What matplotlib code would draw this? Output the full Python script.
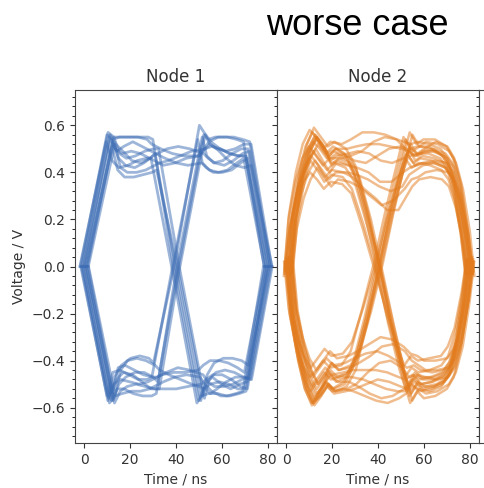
import matplotlib
matplotlib.use("Agg")
import matplotlib.pyplot as plt
from matplotlib.ticker import AutoMinorLocator, MultipleLocator

# ---- Node 1: key times (ns) ----
n1_t_a = [11.5, 14, 17, 21, 25, 29, 31]
n1_t_mid = [35, 40, 45]
n1_t_b = [51, 53, 56, 60, 64, 68, 71]

# first bit, hold section (None = transition through 0 at 40 ns), second bit
n1_bit_a = [
    [0.56, 0.54, 0.55, 0.55, 0.55, 0.54, 0.52],
    [0.53, 0.46, 0.43, 0.42, 0.44, 0.47, 0.48],
    [0.55, 0.50, 0.48, 0.49, 0.48, 0.46, 0.45],
    [0.52, 0.42, 0.40, 0.40, 0.41, 0.43, 0.44],
    [0.54, 0.49, 0.51, 0.53, 0.51, 0.49, 0.48],
    [0.57, 0.55, 0.55, 0.55, 0.55, 0.55, 0.54],
    [0.55, 0.48, 0.46, 0.47, 0.49, 0.50, 0.50],
    [0.53, 0.45, 0.42, 0.43, 0.45, 0.46, 0.46],
    [0.51, 0.41, 0.38, 0.38, 0.39, 0.40, 0.41],
    [0.56, 0.52, 0.49, 0.45, 0.44, 0.46, 0.48],
    [-0.58, -0.53, -0.51, -0.50, -0.51, -0.52, -0.52],
    [-0.56, -0.47, -0.42, -0.39, -0.38, -0.39, -0.41],
    [-0.57, -0.52, -0.52, -0.54, -0.55, -0.55, -0.54],
    [-0.55, -0.45, -0.44, -0.46, -0.48, -0.48, -0.47],
    [-0.57, -0.50, -0.47, -0.45, -0.45, -0.47, -0.49],
    [-0.58, -0.55, -0.54, -0.53, -0.53, -0.52, -0.51],
    [-0.55, -0.44, -0.40, -0.39, -0.40, -0.42, -0.44],
    [-0.57, -0.50, -0.48, -0.49, -0.50, -0.49, -0.48],
    [-0.56, -0.48, -0.45, -0.46, -0.49, -0.52, -0.52],
    [-0.54, -0.43, -0.42, -0.44, -0.46, -0.47, -0.47],
]
n1_mid = [
    [0.50, 0.48, 0.47], [0.50, 0.51, 0.50], [0.43, 0.44, 0.46],
    [0.45, 0.47, 0.49], [0.46, 0.44, 0.43],
    None, None, None, None, None,
    None, None, None, None, None,
    [-0.49, -0.47, -0.46], [-0.46, -0.48, -0.50], [-0.46, -0.45, -0.45],
    [-0.52, -0.52, -0.51], [-0.45, -0.43, -0.44],
]
n1_bit_b = [
    [0.47, 0.49, 0.53, 0.55, 0.55, 0.54, 0.53],
    [0.48, 0.46, 0.44, 0.43, 0.45, 0.48, 0.49],
    [0.47, 0.50, 0.51, 0.50, 0.48, 0.47, 0.47],
    [0.50, 0.52, 0.50, 0.46, 0.43, 0.42, 0.43],
    [0.44, 0.42, 0.40, 0.40, 0.41, 0.44, 0.46],
    [-0.57, -0.52, -0.50, -0.49, -0.50, -0.52, -0.52],
    [-0.56, -0.48, -0.45, -0.44, -0.45, -0.47, -0.48],
    [-0.58, -0.55, -0.54, -0.54, -0.55, -0.54, -0.53],
    [-0.55, -0.46, -0.41, -0.39, -0.39, -0.40, -0.42],
    [-0.57, -0.50, -0.47, -0.50, -0.52, -0.50, -0.49],
    [0.56, 0.52, 0.50, 0.49, 0.50, 0.52, 0.52],
    [0.60, 0.57, 0.53, 0.50, 0.48, 0.47, 0.47],
    [0.55, 0.47, 0.44, 0.45, 0.48, 0.50, 0.50],
    [0.54, 0.44, 0.41, 0.40, 0.41, 0.44, 0.46],
    [0.56, 0.54, 0.55, 0.55, 0.55, 0.54, 0.53],
    [-0.47, -0.50, -0.53, -0.55, -0.55, -0.54, -0.53],
    [-0.52, -0.54, -0.52, -0.49, -0.47, -0.47, -0.48],
    [-0.44, -0.42, -0.40, -0.40, -0.41, -0.43, -0.45],
    [-0.50, -0.48, -0.46, -0.46, -0.48, -0.51, -0.52],
    [-0.46, -0.49, -0.51, -0.51, -0.50, -0.48, -0.47],
]
n1_skew = [-1.6, 1.0, -0.5, 1.8, 0.2, -1.1, 1.4, -1.9, 0.6, -0.2,
           1.7, -0.8, 0.4, -1.5, 1.1, -0.5, 1.9, -1.2, 0.1, 0.8]

# ---- Node 2: sampled traces (ns, V) ----
n2_t = [1, 3, 6, 9, 12, 15, 18, 21, 26, 30, 35, 40, 45, 50, 53, 56, 59, 64, 69,
        72, 75, 78, 80]
n2_traces = [
    [-0.03, 0.22, 0.40, 0.52, 0.58, 0.55, 0.50, 0.53, 0.52, 0.54, 0.57, 0.57, 0.56, 0.54, 0.53, 0.52, 0.53, 0.52, 0.50, 0.46, 0.35, 0.16, -0.03],
    [-0.02, 0.19, 0.35, 0.45, 0.50, 0.45, 0.40, 0.44, 0.43, 0.42, 0.40, 0.36, 0.36, 0.40, 0.42, 0.43, 0.44, 0.45, 0.44, 0.40, 0.30, 0.13, -0.02],
    [-0.04, 0.21, 0.37, 0.47, 0.53, 0.50, 0.46, 0.49, 0.47, 0.45, 0.44, 0.47, 0.50, 0.51, 0.50, 0.47, 0.48, 0.49, 0.47, 0.43, 0.32, 0.14, -0.04],
    [-0.01, 0.16, 0.29, 0.37, 0.42, 0.38, 0.34, 0.37, 0.36, 0.34, 0.30, 0.26, 0.28, 0.33, 0.37, 0.38, 0.40, 0.41, 0.40, 0.36, 0.27, 0.12, -0.02],
    [-0.03, 0.23, 0.39, 0.50, 0.55, 0.52, 0.48, 0.50, 0.50, 0.51, 0.52, 0.52, 0.51, 0.50, 0.49, 0.47, 0.49, 0.50, 0.48, 0.44, 0.33, 0.15, -0.03],
    [-0.02, 0.18, 0.33, 0.42, 0.47, 0.43, 0.38, 0.41, 0.40, 0.38, 0.33, 0.29, 0.24, 0.24, 0.29, 0.34, 0.37, 0.38, 0.37, 0.34, 0.25, 0.11, -0.02],
    [-0.03, 0.21, 0.38, 0.49, 0.55, 0.51, 0.45, 0.47, 0.48, 0.49, 0.48, 0.45, 0.44, 0.46, 0.50, 0.48, 0.50, 0.53, 0.51, 0.46, 0.35, 0.15, -0.03],
    [-0.04, 0.20, 0.36, 0.46, 0.51, 0.47, 0.43, 0.46, 0.46, 0.47, 0.49, 0.53, 0.55, 0.54, 0.51, 0.47, 0.48, 0.48, 0.46, 0.42, 0.31, 0.14, -0.03],
    [-0.02, 0.17, 0.31, 0.40, 0.45, 0.41, 0.37, 0.40, 0.40, 0.39, 0.37, 0.34, 0.32, 0.34, 0.39, 0.41, 0.43, 0.44, 0.42, 0.38, 0.28, 0.12, -0.02],
    [-0.03, 0.22, 0.39, 0.51, 0.57, 0.53, 0.48, 0.51, 0.48, 0.40, 0.22, 0.00, -0.24, -0.44, -0.53, -0.48, -0.50, -0.49, -0.46, -0.42, -0.31, -0.14, 0.03],
    [-0.02, 0.20, 0.36, 0.47, 0.52, 0.48, 0.43, 0.46, 0.44, 0.38, 0.20, -0.02, -0.25, -0.46, -0.57, -0.52, -0.54, -0.53, -0.50, -0.45, -0.34, -0.15, 0.02],
    [-0.02, 0.17, 0.31, 0.40, 0.45, 0.41, 0.36, 0.39, 0.38, 0.33, 0.18, 0.01, -0.20, -0.38, -0.47, -0.43, -0.45, -0.44, -0.42, -0.38, -0.28, -0.12, 0.02],
    [-0.04, 0.23, 0.40, 0.52, 0.59, 0.55, 0.51, 0.53, 0.50, 0.43, 0.24, 0.02, -0.22, -0.42, -0.50, -0.45, -0.47, -0.47, -0.45, -0.41, -0.30, -0.13, 0.03],
    [-0.03, 0.21, 0.37, 0.48, 0.54, 0.50, 0.46, 0.48, 0.45, 0.37, 0.19, -0.01, -0.26, -0.48, -0.58, -0.53, -0.56, -0.55, -0.52, -0.47, -0.35, -0.16, 0.04],
    [-0.01, 0.15, 0.28, 0.36, 0.40, 0.37, 0.33, 0.36, 0.35, 0.31, 0.16, -0.01, -0.18, -0.34, -0.42, -0.38, -0.40, -0.39, -0.38, -0.34, -0.26, -0.11, 0.02],
    [-0.04, 0.21, 0.38, 0.50, 0.56, 0.52, 0.47, 0.50, 0.47, 0.41, 0.23, 0.00, -0.23, -0.43, -0.55, -0.50, -0.52, -0.51, -0.48, -0.43, -0.33, -0.14, 0.03],
    [-0.02, 0.19, 0.34, 0.44, 0.49, 0.45, 0.41, 0.44, 0.42, 0.36, 0.19, 0.01, -0.21, -0.40, -0.51, -0.47, -0.50, -0.49, -0.47, -0.42, -0.32, -0.14, 0.02],
    [-0.03, 0.21, 0.38, 0.49, 0.55, 0.51, 0.44, 0.45, 0.43, 0.35, 0.17, -0.02, -0.24, -0.45, -0.54, -0.49, -0.51, -0.50, -0.47, -0.43, -0.32, -0.14, 0.03],
    [0.03, -0.22, -0.39, -0.52, -0.58, -0.54, -0.49, -0.52, -0.49, -0.41, -0.22, 0.00, 0.23, 0.43, 0.54, 0.49, 0.51, 0.50, 0.47, 0.43, 0.32, 0.14, -0.03],
    [0.04, -0.23, -0.40, -0.52, -0.59, -0.55, -0.50, -0.53, -0.51, -0.44, -0.24, -0.01, 0.22, 0.41, 0.50, 0.45, 0.47, 0.46, 0.44, 0.40, 0.30, 0.13, -0.02],
    [0.02, -0.19, -0.34, -0.44, -0.50, -0.46, -0.41, -0.44, -0.42, -0.36, -0.19, 0.01, 0.24, 0.45, 0.56, 0.51, 0.53, 0.52, 0.49, 0.44, 0.33, 0.15, -0.04],
    [0.01, -0.16, -0.29, -0.38, -0.43, -0.39, -0.35, -0.38, -0.37, -0.32, -0.17, 0.00, 0.20, 0.37, 0.46, 0.42, 0.44, 0.43, 0.41, 0.37, 0.28, 0.12, -0.02],
    [0.03, -0.21, -0.37, -0.48, -0.55, -0.51, -0.46, -0.49, -0.47, -0.40, -0.21, 0.02, 0.25, 0.46, 0.57, 0.52, 0.54, 0.54, 0.51, 0.46, 0.35, 0.15, -0.03],
    [0.03, -0.22, -0.39, -0.51, -0.58, -0.54, -0.49, -0.52, -0.50, -0.42, -0.23, -0.01, 0.21, 0.39, 0.48, 0.44, 0.46, 0.45, 0.43, 0.39, 0.29, 0.13, -0.02],
    [0.02, -0.20, -0.35, -0.46, -0.52, -0.48, -0.44, -0.47, -0.45, -0.38, -0.20, 0.00, 0.22, 0.42, 0.52, 0.47, 0.49, 0.49, 0.46, 0.42, 0.31, 0.14, -0.03],
    [0.02, -0.18, -0.33, -0.42, -0.47, -0.44, -0.40, -0.43, -0.42, -0.36, -0.18, 0.01, 0.23, 0.43, 0.55, 0.50, 0.51, 0.51, 0.48, 0.44, 0.33, 0.14, -0.02],
    [0.03, -0.21, -0.37, -0.49, -0.56, -0.52, -0.45, -0.47, -0.46, -0.39, -0.21, -0.02, 0.20, 0.38, 0.47, 0.43, 0.44, 0.44, 0.42, 0.38, 0.28, 0.12, -0.02],
    [0.03, -0.22, -0.40, -0.52, -0.59, -0.55, -0.50, -0.53, -0.52, -0.53, -0.55, -0.57, -0.58, -0.56, -0.54, -0.51, -0.53, -0.52, -0.50, -0.46, -0.34, -0.15, 0.03],
    [0.02, -0.19, -0.34, -0.44, -0.50, -0.46, -0.41, -0.44, -0.43, -0.41, -0.38, -0.34, -0.33, -0.36, -0.40, -0.42, -0.44, -0.44, -0.43, -0.39, -0.29, -0.13, 0.02],
    [0.04, -0.23, -0.40, -0.52, -0.58, -0.55, -0.51, -0.54, -0.53, -0.52, -0.50, -0.48, -0.49, -0.51, -0.52, -0.49, -0.51, -0.51, -0.49, -0.44, -0.33, -0.15, 0.03],
    [0.01, -0.17, -0.30, -0.39, -0.44, -0.40, -0.36, -0.39, -0.38, -0.36, -0.33, -0.30, -0.31, -0.34, -0.37, -0.38, -0.40, -0.40, -0.39, -0.35, -0.26, -0.12, 0.02],
    [0.02, -0.20, -0.36, -0.47, -0.53, -0.49, -0.45, -0.48, -0.47, -0.47, -0.48, -0.50, -0.52, -0.53, -0.53, -0.50, -0.52, -0.53, -0.51, -0.46, -0.35, -0.15, 0.03],
    [0.03, -0.22, -0.39, -0.51, -0.57, -0.54, -0.50, -0.53, -0.52, -0.50, -0.45, -0.41, -0.40, -0.43, -0.47, -0.46, -0.48, -0.48, -0.46, -0.41, -0.31, -0.14, 0.02],
    [0.02, -0.19, -0.35, -0.45, -0.51, -0.47, -0.43, -0.46, -0.45, -0.44, -0.44, -0.44, -0.45, -0.47, -0.48, -0.46, -0.48, -0.47, -0.45, -0.41, -0.30, -0.13, 0.03],
    [0.03, -0.21, -0.37, -0.48, -0.54, -0.50, -0.46, -0.49, -0.49, -0.51, -0.54, -0.56, -0.55, -0.52, -0.49, -0.46, -0.47, -0.48, -0.47, -0.42, -0.32, -0.14, 0.02],
    [0.02, -0.18, -0.32, -0.41, -0.47, -0.43, -0.39, -0.42, -0.41, -0.39, -0.37, -0.36, -0.38, -0.41, -0.43, -0.42, -0.44, -0.45, -0.44, -0.40, -0.30, -0.13, 0.02],
]
n2_skew = [-1.8, 0.9, -0.3, 1.6, 0.4, -1.1, 1.2, -2.0, 0.6,
           -0.6, 1.9, -1.4, 0.1, 1.0, -1.6, 0.7, -0.2, 1.5,
           -0.9, 0.3, 2.0, -1.3, 0.8, -0.5, 1.3, -1.9, 0.2,
           -0.8, 1.7, -0.1, 1.1, -1.5, 0.5, -1.0, 1.4, -0.4]

blue = "#3d6db4"
orange = "#e27b1d"

fig = plt.figure(figsize=(4.85, 4.88), dpi=100)
w, h, b = 202 / 485, 353 / 488, 45 / 488
ax1 = fig.add_axes([75 / 485, b, w, h])
ax2 = fig.add_axes([277 / 485, b, w, h])
ax3 = fig.add_axes([479 / 485, b, w, h])  # next panel, cut off at the edge

for i in range(len(n1_bit_a)):
    if n1_mid[i] is None:
        t = [0] + n1_t_a + [40] + n1_t_b + [80]
        v = [0] + n1_bit_a[i] + [0] + n1_bit_b[i] + [0]
    else:
        t = [0] + n1_t_a + n1_t_mid + n1_t_b + [80]
        v = [0] + n1_bit_a[i] + n1_mid[i] + n1_bit_b[i] + [0]
    ax1.plot([x + n1_skew[i] for x in t], v, color=blue, lw=2.0, alpha=0.5,
             solid_joinstyle="round")

for i, v in enumerate(n2_traces):
    ax2.plot([x + n2_skew[i] for x in n2_t], v, color=orange, lw=1.8, alpha=0.5,
             solid_joinstyle="round")

for ax in (ax1, ax2, ax3):
    ax.set_xlim(-4, 84)
    ax.set_ylim(-0.75, 0.75)
    ax.xaxis.set_major_locator(MultipleLocator(20))
    ax.yaxis.set_major_locator(MultipleLocator(0.2))
    ax.yaxis.set_minor_locator(AutoMinorLocator(5))
    ax.tick_params(colors="#333333", labelsize=10)
    for s in ax.spines.values():
        s.set_color("#444444")
    ax.set_xlabel("Time / ns", color="#333333")

ax2.tick_params(labelleft=False)
ax3.tick_params(labelleft=False)
ax1.set_ylabel("Voltage / V", color="#333333")
ax1.set_title("Node 1", color="#333333")
ax2.set_title("Node 2", color="#333333")

fig.text(0.737, 0.947, "worse case", fontsize=26, family="Liberation Sans",
         ha="center", va="center", color="black")

fig.savefig("out.png", dpi=100)
